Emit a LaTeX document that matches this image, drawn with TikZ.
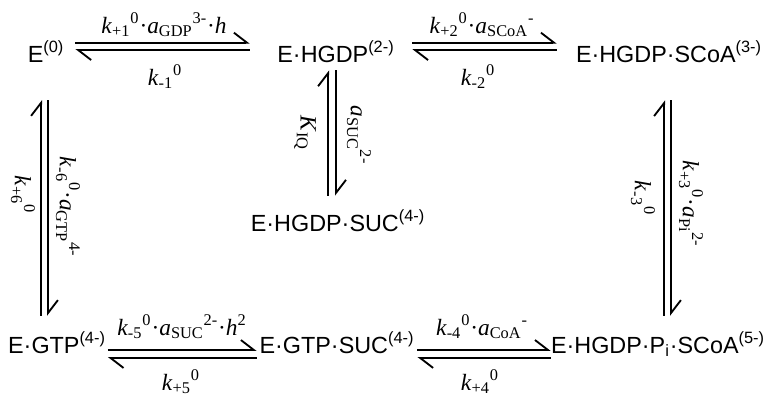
\documentclass[tikz,border=0pt]{standalone}
\usepackage{fontspec}
\setmainfont{Liberation Sans}
\newfontfamily\ratefont{Liberation Serif}
\usetikzlibrary{arrows.meta}

\begin{document}
\begin{tikzpicture}[
    x=0.02cm, y=-0.02cm,
    species/.style={font=\fontsize{13.3}{15}\selectfont, inner sep=0pt, anchor=base},
    rate/.style={font=\ratefont\fontsize{13.3}{15}\selectfont, inner sep=0pt, anchor=base},
    vrate/.style={rate, anchor=center, rotate=-90},
    harp/.style={line width=1.05pt, -{Straight Barb[left, length=2.6mm, width=4mm]}}
]
\useasboundingbox (0,0) rectangle (766,396);
\node[species] (e0) at (46,62) {E\textsuperscript{(0)}};
\node[species] (hgdp) at (336,62) {E·HGDP\textsuperscript{(2-)}};
\node[species] (scoa) at (669,62) {E·HGDP·SCoA\textsuperscript{(3-)}};
\node[species] (suc) at (338,231) {E·HGDP·SUC\textsuperscript{(4-)}};
\node[species] (gtp) at (57,353) {E·GTP\textsuperscript{(4-)}};
\node[species] (gtpsuc) at (337,353) {E·GTP·SUC\textsuperscript{(4-)}};
\node[species] (pisc) at (658,353) {E·HGDP·P\textsubscript{i}·SCoA\textsuperscript{(5-)}};

\draw[harp, shorten <=6.2pt, shorten >=15.6pt] ([yshift=11pt]e0.base east) -- ([yshift=11pt]hgdp.base west);
\draw[harp, shorten <=15.6pt, shorten >=6.2pt] ([yshift=6.8pt]hgdp.base west) -- ([yshift=6.8pt]e0.base east);
\draw[harp, shorten <=9.9pt, shorten >=10.8pt] ([yshift=11pt]hgdp.base east) -- ([yshift=11pt]scoa.base west);
\draw[harp, shorten <=10.8pt, shorten >=9.9pt] ([yshift=6.8pt]scoa.base west) -- ([yshift=6.8pt]hgdp.base east);
\draw[harp, shorten <=0.9pt, shorten >=1.5pt] ([yshift=1.7pt]gtp.base east) -- ([yshift=1.7pt]gtpsuc.base west);
\draw[harp, shorten <=1.5pt, shorten >=0.9pt] ([yshift=-2.8pt]gtpsuc.base west) -- ([yshift=-2.8pt]gtp.base east);
\draw[harp, shorten <=1.5pt, shorten >=0pt] ([yshift=1.7pt]gtpsuc.base east) -- ([yshift=1.7pt]pisc.base west);
\draw[harp, shorten <=0pt, shorten >=1.5pt] ([yshift=-2.8pt]pisc.base west) -- ([yshift=-2.8pt]gtpsuc.base east);

\draw[harp, shorten <=9pt, shorten >=21.5pt] ([xshift=-2.8pt]e0.south |- gtp.north) -- ([xshift=-2.8pt]e0.south);
\draw[harp, shorten <=21.5pt, shorten >=9pt] ([xshift=1.1pt]e0.south) -- ([xshift=1.1pt]e0.south |- gtp.north);
\draw[harp, shorten <=8pt, shorten >=4.5pt] ([xshift=-4.5pt]hgdp.south |- suc.north) -- ([xshift=-4.5pt]hgdp.south);
\draw[harp, shorten <=4.5pt, shorten >=8pt] (hgdp.south) -- (hgdp.south |- suc.north);
\draw[harp, shorten <=9pt, shorten >=21.5pt] ([xshift=-2.8pt]scoa.south |- pisc.north) -- ([xshift=-2.8pt]scoa.south);
\draw[harp, shorten <=21.5pt, shorten >=9pt] ([xshift=1.1pt]scoa.south) -- ([xshift=1.1pt]scoa.south |- pisc.north);

\node[rate] (k1f) at (164,33) {\textit{k}\textsubscript{+1}\textsuperscript{0}·\textit{a}\textsubscript{GDP}\textsuperscript{3-}·\textit{h}};
\node[rate] (k1r) at (165,85) {\textit{k}\textsubscript{-1}\textsuperscript{0}};
\node[rate] (k2f) at (482,33) {\textit{k}\textsubscript{+2}\textsuperscript{0}·\textit{a}\textsubscript{SCoA}\textsuperscript{-}};
\node[rate] (k2r) at (478,85) {\textit{k}\textsubscript{-2}\textsuperscript{0}};
\node[vrate] (kiq) at (305,133) {\textit{K}\textsubscript{IQ}};
\node[vrate] (asuc) at (359,135) {\textit{a}\textsubscript{SUC}\textsuperscript{2-}};
\node[vrate] (k6r) at (68,207) {\textit{k}\textsubscript{-6}\textsuperscript{0}·\textit{a}\textsubscript{GTP}\textsuperscript{4-}};
\node[vrate] (k6f) at (23,195) {\textit{k}\textsubscript{+6}\textsuperscript{0}};
\node[vrate] (k3f) at (691,204) {\textit{k}\textsubscript{+3}\textsuperscript{0}·\textit{a}\textsubscript{Pi}\textsuperscript{2-}};
\node[vrate] (k3r) at (643,198) {\textit{k}\textsubscript{-3}\textsuperscript{0}};
\node[rate] (k5r) at (182,335) {\textit{k}\textsubscript{-5}\textsuperscript{0}·\textit{a}\textsubscript{SUC}\textsuperscript{2-}·\textit{h}\textsuperscript{2}};
\node[rate] (k5f) at (181,390) {\textit{k}\textsubscript{+5}\textsuperscript{0}};
\node[rate] (k4r) at (482,335) {\textit{k}\textsubscript{-4}\textsuperscript{0}·\textit{a}\textsubscript{CoA}\textsuperscript{-}};
\node[rate] (k4f) at (480,390) {\textit{k}\textsubscript{+4}\textsuperscript{0}};
\end{tikzpicture}
\end{document}
